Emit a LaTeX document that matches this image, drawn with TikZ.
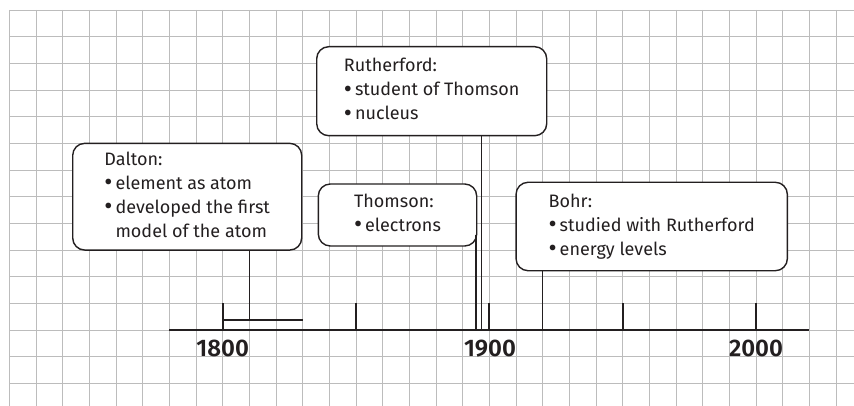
\documentclass[tikz,border=0pt]{standalone}
\usepackage{fontspec}
\setmainfont{Fira Sans}
\newfontfamily\yearfont{Fira Sans SemiBold}
\definecolor{gridgray}{RGB}{188,188,188}
\definecolor{ink}{RGB}{35,31,32}
\tikzset{
  gridline/.style={draw=gridgray, line width=0.9pt},
  infobox/.style={draw=ink, fill=white, line width=1.4pt, rounded corners=12pt, inner sep=0pt, align=left,
    font=\fontsize{18}{24}\selectfont, text=ink},
  axisline/.style={draw=ink, line width=2.2pt},
  tickline/.style={draw=ink, line width=2pt},
  conn/.style={draw=ink, line width=1.1pt},
  yearlabel/.style={font=\fontsize{24}{24}\selectfont\yearfont, text=ink, anchor=base, inner sep=0pt}
}
\newcommand{\bl}{\raisebox{-1.2pt}{\fontsize{25}{24}\selectfont\textbullet}}
\begin{document}
\begin{tikzpicture}[x=1pt,y=-1pt]
\useasboundingbox (0,0) rectangle (854,406);
\clip (0,0) rectangle (854,406);
% grid
\foreach \i in {0,...,32} \draw[gridline] (9.333+26.667*\i,10) -- (9.333+26.667*\i,420);
\foreach \j in {0,...,15} \draw[gridline] (9.333,10+26.667*\j) -- (870,10+26.667*\j);

% axis
\coordinate (axL) at (169.3,330);
\coordinate (axR) at (809.3,330);
\draw[axisline] (axL) -- (axR);
\foreach \n/\x in {t1800/222.7,t1850/355.7,t1900/489.3,t1950/622.7,t2000/756}{
  \coordinate (\n) at (\x,330);
  \coordinate (\n top) at (\x,303.3);
  \draw[tickline] (\n) -- (\n top);
}
\node[yearlabel] (y1800) at (222.7,356) {1800};
\node[yearlabel] (y1900) at (490,356) {1900};
\node[yearlabel] (y2000) at (756,356) {2000};

% boxes
\node[infobox, minimum width=229pt, minimum height=106.7pt] (dalton) at (187.2,196.7)
 {\begin{tabular}{@{}l@{\hspace{3pt}}l@{}}
  \multicolumn{2}{@{}l}{Dalton:}\\
  \bl & element as atom\\
  \bl & developed the first\\
      & model of the atom
  \end{tabular}};
\node[infobox, minimum width=230pt, minimum height=89pt] (rutherford) at (431.7,91.2)
 {\begin{tabular}{@{}l@{\hspace{3pt}}l@{}}
  \multicolumn{2}{@{}l}{Rutherford:}\\
  \bl & student of Thomson\\
  \bl & nucleus
  \end{tabular}};
\node[infobox, minimum width=158.4pt, minimum height=62pt] (thomson) at (397.5,215)
 {\begin{tabular}{@{}l@{\hspace{3pt}}l@{}}
  \multicolumn{2}{@{}l}{Thomson:}\\
  \bl & electrons
  \end{tabular}};
\node[infobox, minimum width=271.3pt, minimum height=88.4pt] (bohr) at (651.7,226.5)
 {\begin{tabular}{@{}l@{\hspace{3pt}}l@{}}
  \multicolumn{2}{@{}l}{Bohr:}\\
  \bl & studied with Rutherford\\
  \bl & energy levels
  \end{tabular}};

% connectors
\coordinate (d1810) at (249.3,320);
\coordinate (d1800) at (222.7,320);
\coordinate (d1830) at (302.7,320);
\draw[conn] (dalton.south -| d1810) -- (d1810);
\draw[conn] (d1800) -- (d1830);
\coordinate (thx) at (476,330);
\draw[conn] ([yshift=12pt]thomson.south east -| thx) -- (thx);
\coordinate (rux) at (481.7,330);
\draw[conn] (rutherford.south -| rux) -- (rux);
\coordinate (box) at (542.7,330);
\draw[conn] (bohr.south -| box) -- (box);
\end{tikzpicture}
\end{document}
